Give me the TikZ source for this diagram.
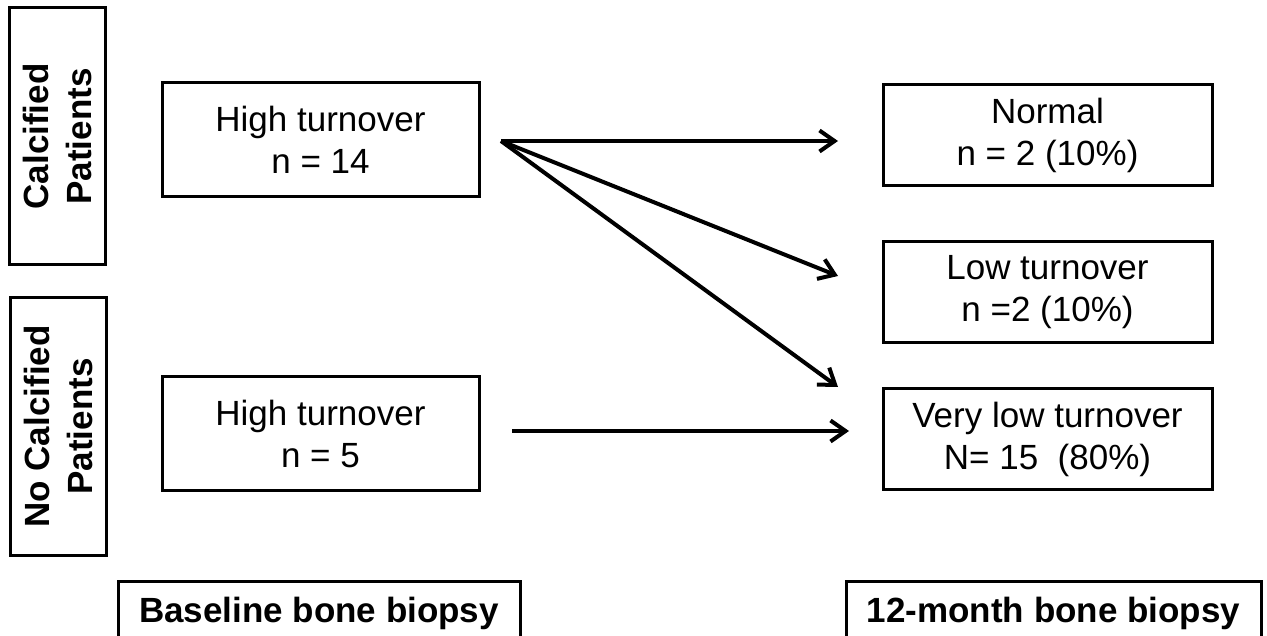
\documentclass[tikz,border=0pt]{standalone}
\usepackage{fontspec}
\setmainfont{Liberation Sans}
\usetikzlibrary{arrows.meta}
\begin{document}
\begin{tikzpicture}[x=1pt,y=-1pt,
  box/.style={draw=black,line width=3pt,rectangle,inner sep=0pt,align=center,
    font=\fontsize{35}{42}\selectfont},
  sidebox/.style={box,rotate=90,minimum width=257pt,minimum height=96pt,
    font=\fontsize{35}{43}\selectfont\bfseries},
  stagebox/.style={box,font=\fontsize{35}{42}\selectfont\bfseries,minimum height=64pt},
  leftbox/.style={box,minimum width=317pt,minimum height=114pt},
  rightbox/.style={box,minimum width=329pt,minimum height=101pt},
  arr/.style={line width=4pt,-{Straight Barb[length=15pt,width=21pt,line width=4pt]}}
]
\useasboundingbox (0,0) rectangle (1267,636);
\clip (0,0) rectangle (1267,636);
\fill[white] (0,0) rectangle (1267,636);

% side labels
\node[sidebox] (calc) at (57,136.5) {Calcified\\Patients};
\node[sidebox] (nocalc) at (58.5,426.5) {No Calcified\\Patients};

% baseline boxes
\node[leftbox] (h14) at (320.5,140) {High turnover\\n = 14};
\node[leftbox] (h5) at (320.5,433.5) {High turnover\\n = 5};

% 12-month boxes
\node[rightbox] (normal) at (1047.5,135) {Normal\\n = 2 (10\%)};
\node[rightbox] (low) at (1047.5,292.5) {Low turnover\\n =2 (10\%)};
\node[rightbox] (vlow) at (1047.5,439) {Very low turnover\\N= 15\ \ (80\%)};

% stage labels
\node[stagebox,minimum width=402pt] (base) at (319,613) {Baseline bone biopsy};
\node[stagebox,minimum width=415pt] (month) at (1053.5,613) {12-month bone biopsy};

% arrow end points
\coordinate (s14) at (501,141);
\coordinate (s5) at (512,431);
\coordinate (tn) at (838,141);
\coordinate (tl) at (838,276);
\coordinate (tv) at (838,387);
\coordinate (tv5) at (849,431);

\draw[arr] (s14) -- (tn);
\draw[arr] (s14) -- (tl);
\draw[arr] (s14) -- (tv);
\draw[arr] (s5) -- (tv5);
\end{tikzpicture}
\end{document}
